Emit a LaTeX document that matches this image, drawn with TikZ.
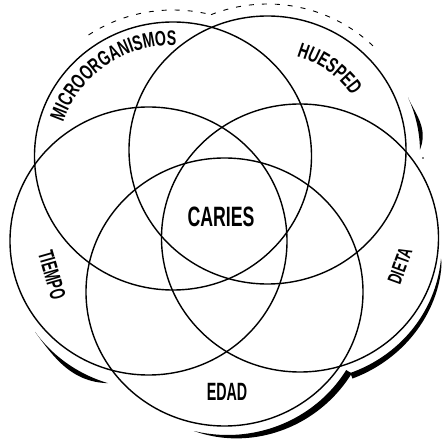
\documentclass[tikz,border=0pt]{standalone}
\usepackage{fontspec}
\newfontfamily\labfont[FakeStretch=0.68]{Liberation Sans}
\usetikzlibrary{shapes.geometric,decorations.text,calc}
\tikzset{
  venn/.style={ellipse, draw, line width=1.4pt, minimum width=277pt, minimum height=268pt, inner sep=0pt, outer sep=0pt},
  lab/.style={inner sep=0pt, outer sep=0pt},
  dashedrim/.style={draw, line width=0.9pt, dash pattern=on 5pt off 8pt},
  curvelabel/.style={decorate, decoration={text along path, text align=center, text={#1}}}
}
\newcommand\curvefont{\labfont\bfseries\fontsize{21pt}{21pt}\selectfont}
\begin{document}
\begin{tikzpicture}[x=1pt,y=1pt]
\fill[white] (0,0) rectangle (445,442);
\useasboundingbox (0,0) rectangle (445,442);

% five circles
\node[venn] (micro)   at (173,286)   {};
\node[venn] (huesped) at (267.5,292) {};
\node[venn] (dieta)   at (300,204)   {};
\node[venn] (edad)    at (224.5,150) {};
\node[venn] (tiempo)  at (148.5,201) {};

% labels
\node[lab, font=\labfont\bfseries\fontsize{28pt}{28pt}\selectfont] (caries) at (221,225) {\scalebox{0.93}[1]{CARIES}};
\node[lab, font=\labfont\bfseries\fontsize{25pt}{25pt}\selectfont] (edadlab) at (227,50) {\scalebox{0.84}[1]{EDAD}};
\node[lab, font=\labfont\bfseries\fontsize{20pt}{20pt}\selectfont, rotate=70] (dietalab) at (400,176) {\scalebox{0.92}[1]{DIETA}};
\node[lab, font=\labfont\bfseries\fontsize{22pt}{22pt}\selectfont, rotate=-74] (tiempolab) at (52,167) {\scalebox{0.86}[1]{TIEMPO}};

% curved labels
\path[curvelabel={|\curvefont|MICROORGANISMOS}]
  ($(173,286)+(167:115 and 111)$) arc[start angle=167, end angle=84, x radius=115, y radius=111];
\path[curvelabel={|\curvefont|HUESPED}]
  ($(267.5,292)+(78:101.5 and 98)$) arc[start angle=78, end angle=29, x radius=101.5, y radius=98];

% dashed rim at the top
\draw[dashedrim] ($(173,286)+(124:151 and 146)$) arc[start angle=124, end angle=75.4, x radius=151, y radius=146];
\draw[dashedrim] ($(267.5,292)+(112:150.5 and 146)$) arc[start angle=112, end angle=44, x radius=150.5, y radius=146];

% shadow strokes
\fill[black]
  plot[domain=0:1, samples=40, variable=\s] ({303+(138.5+6*sqrt(\s))*cos(-5-65*\s)}, {195+(134+6*sqrt(\s))*sin(-5-65*\s)})
  -- plot[domain=1:0, samples=40, variable=\s] ({303+138.5*cos(-5-65*\s)}, {195+134*sin(-5-65*\s)}) -- cycle;
\fill[black]
  plot[domain=0:1, samples=40, variable=\s] ({227.5+(138.5+6.5*(1-\s*\s*\s))*cos(-31-73*\s)}, {141+(134+6.5*(1-\s*\s*\s))*sin(-31-73*\s)})
  -- plot[domain=1:0, samples=40, variable=\s] ({227.5+138.5*cos(-31-73*\s)}, {141+134*sin(-31-73*\s)}) -- cycle;
\fill[black]
  plot[domain=0:1, samples=30, variable=\s] ({281.5+(138.5+7*sin(180*\s)*(1-\s))*cos(1+23*\s)}, {290+(134+7*sin(180*\s)*(1-\s))*sin(1+23*\s)})
  -- plot[domain=1:0, samples=30, variable=\s] ({281.5+138.5*cos(1+23*\s)}, {290+134*sin(1+23*\s)}) -- cycle;
\fill[black] (423,284) circle[radius=0.8];
\fill[black]
  plot[domain=0:1, samples=30, variable=\s] ({148.5+(138.5+8*\s*sin(180*\s))*cos(215+38*\s)}, {187+(134+8*\s*sin(180*\s))*sin(215+38*\s)})
  -- plot[domain=1:0, samples=30, variable=\s] ({148.5+138.5*cos(215+38*\s)}, {187+134*sin(215+38*\s)}) -- cycle;
\end{tikzpicture}
\end{document}
